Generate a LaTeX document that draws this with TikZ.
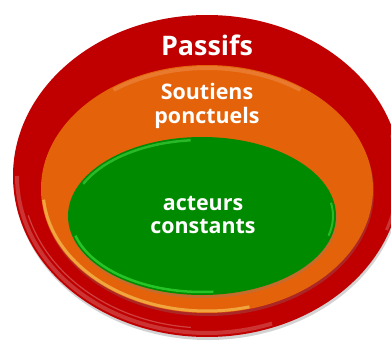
\documentclass[tikz,border=0pt]{standalone}
\usepackage{fontspec}
\setsansfont{Open Sans}
\usetikzlibrary{shapes.geometric,shadows}

\definecolor{passifred}{HTML}{C00000}
\definecolor{soutienorange}{HTML}{E46209}
\definecolor{acteurgreen}{HTML}{008A00}

\begin{document}
\begin{tikzpicture}[x=1bp, y=1bp, every node/.style={font=\sffamily\bfseries, text=white}]
    \useasboundingbox (0,0) rectangle (391,340);
    % --- Outer ring ---
    \node[ellipse, fill=passifred, minimum width=388bp, minimum height=322bp,
          drop shadow={shadow xshift=1bp, shadow yshift=-3bp, opacity=.35}] (passifs) at (207,164) {};
    \draw[shift={(passifs.center)}, white, opacity=.2, line width=4bp]
        (180:190 and 157) arc[start angle=180, end angle=290, x radius=190, y radius=157];
    \draw[shift={(passifs.center)}, white, opacity=.25, line width=1.2bp]
        (195:185 and 152) arc[start angle=195, end angle=265, x radius=185, y radius=152];
    \draw[shift={(passifs.center)}, white, opacity=.2, line width=3bp]
        (340:191 and 158) arc[start angle=340, end angle=375, x radius=191, y radius=158];
    % --- Middle ring ---
    \node[ellipse, fill=soutienorange, minimum width=332bp, minimum height=248bp,
          drop shadow={shadow xshift=1bp, shadow yshift=-3bp, opacity=.3}] (soutiens) at (207,151) {};
    \draw[shift={(soutiens.center)}, yellow!50!white, opacity=.45, line width=3bp]
        (185:164 and 122) arc[start angle=185, end angle=285, x radius=164, y radius=122];
    \draw[shift={(soutiens.center)}, white, opacity=.15, line width=4bp]
        (55:163 and 121) arc[start angle=55, end angle=125, x radius=163, y radius=121];
    % --- Inner core ---
    \node[ellipse, fill=acteurgreen, minimum width=268bp, minimum height=158bp,
          drop shadow={shadow xshift=1bp, shadow yshift=-3bp, opacity=.3}] (acteurs) at (202,124) {};
    \draw[shift={(acteurs.center)}, green!70!white, opacity=.5, line width=2.5bp]
        (195:131 and 76) arc[start angle=195, end angle=275, x radius=131, y radius=76];
    \draw[shift={(acteurs.center)}, green!60!white, opacity=.4, line width=2.5bp]
        (95:131 and 76) arc[start angle=95, end angle=155, x radius=131, y radius=76];
    \draw[shift={(acteurs.center)}, green!60!white, opacity=.4, line width=2bp]
        (345:131 and 76) arc[start angle=345, end angle=370, x radius=131, y radius=76];

    % --- Labels ---
    \node[font=\sffamily\bfseries\fontsize{27}{30}\selectfont, anchor=base] (passifs label) at (207,285) {Passifs};
    \node[font=\sffamily\bfseries\fontsize{21.5}{24}\selectfont, align=center] (soutiens label) at (207,234) {Soutiens\\ponctuels};
    \node[font=\sffamily\bfseries\fontsize{21.5}{24}\selectfont, align=center] (acteurs label) at (203,125) {acteurs\\constants};
\end{tikzpicture}
\end{document}
